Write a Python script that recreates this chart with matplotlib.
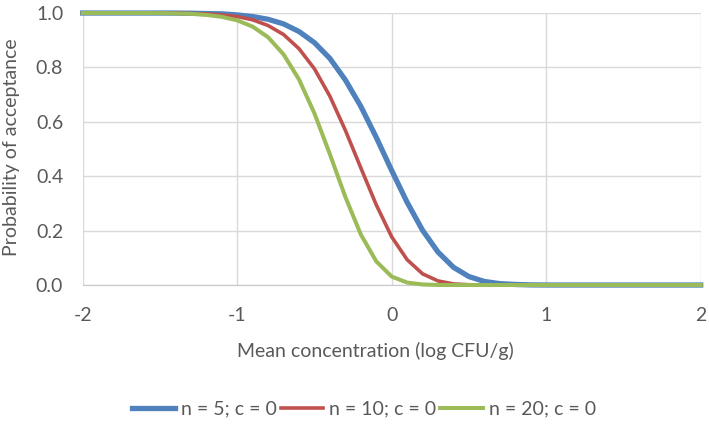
import numpy as np
import matplotlib
matplotlib.use("Agg")
import matplotlib.pyplot as plt

plt.rcParams['font.family'] = ['Lato', 'DejaVu Sans']

# mean concentration grid (log CFU/g)
conc = np.linspace(-2, 2, 41)

# probability of acceptance, one value per 0.1 log step
pa_n5 = [1.0, 1.0, 1.0, 1.0, 1.0, 1.0,
         0.9998, 0.9992, 0.998, 0.997, 0.993, 0.987, 0.977, 0.960, 0.932, 0.891,
         0.833, 0.754, 0.657, 0.543, 0.421, 0.304, 0.201, 0.121, 0.065, 0.031,
         0.013, 0.005, 0.002, 0.0004] + [0.0] * 11
pa_n10 = [1.0, 1.0, 1.0, 1.0, 1.0, 1.0,
          0.9995, 0.998, 0.997, 0.993, 0.987, 0.975, 0.954, 0.921, 0.869, 0.795,
          0.694, 0.569, 0.431, 0.295, 0.177, 0.093, 0.041, 0.015, 0.004, 0.001,
          0.0002] + [0.0] * 14
pa_n20 = [1.0, 1.0, 1.0, 1.0, 1.0,
          0.9997, 0.9986, 0.997, 0.993, 0.986, 0.973, 0.950, 0.911, 0.848, 0.756,
          0.631, 0.481, 0.324, 0.186, 0.087, 0.031, 0.009, 0.002, 0.0002] + [0.0] * 17

labels = ["n = 5; c = 0", "n = 10; c = 0", "n = 20; c = 0"]
colors = ["#4F81BD", "#C0504D", "#9BBB59"]
widths = [3.8, 2.6, 2.9]

x_ticks = [-2, -1, 0, 1, 2]
x_ticklabels = ["-2", "-1", "0", "1", "2"]
y_ticks = [0.0, 0.2, 0.4, 0.6, 0.8, 1.0]

txt = "#595959"
fs = 14

fig = plt.figure(figsize=(7.09, 4.24), dpi=100)
ax = fig.add_axes([0.1166, 0.3278, 0.8717, 0.6415])

for ys, lab, col, lw in zip([pa_n5, pa_n10, pa_n20], labels, colors, widths):
    ax.plot(conc, ys, color=col, lw=lw, label=lab, clip_on=False,
            solid_joinstyle="round", zorder=3)

ax.set_xlim(-2, 2)
ax.set_ylim(0, 1)
ax.set_xticks(x_ticks)
ax.set_xticklabels(x_ticklabels)
ax.set_yticks(y_ticks)
ax.set_yticklabels([f"{v:.1f}" for v in y_ticks])
ax.tick_params(length=0, labelsize=fs, colors=txt)
ax.tick_params(axis="y", pad=14)
ax.tick_params(axis="x", pad=16)

ax.grid(True, color="#D9D9D9", lw=1)
ax.set_axisbelow(True)
for s in ["top", "right", "left"]:
    ax.spines[s].set_visible(False)
ax.spines["bottom"].set_color("#C8C8C8")

fig.text(12 / 709, 1 - 147 / 424, "Probability of acceptance", rotation=90,
         ha="center", va="center", fontsize=fs, color=txt)
fig.text(375 / 709, 1 - 351 / 424, "Mean concentration (log CFU/g)",
         ha="center", va="center", fontsize=fs, color=txt)

fig.legend(loc="center", bbox_to_anchor=(364 / 709, 1 - 409 / 424), ncol=3,
           frameon=False, fontsize=fs, labelcolor=txt, handlelength=2.2,
           handletextpad=0.3, columnspacing=0.2)

fig.savefig("out.png", dpi=100)
